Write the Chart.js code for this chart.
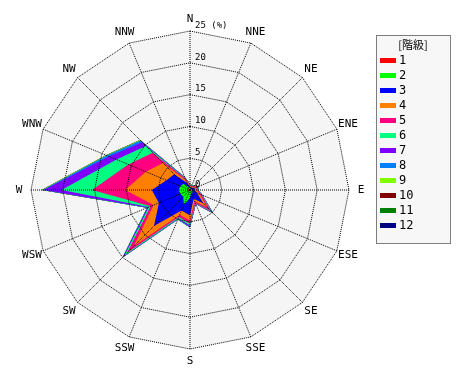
<!DOCTYPE html>
<html>
<head>
<meta charset="utf-8">
<script src="https://cdn.jsdelivr.net/npm/chart.js@4/dist/chart.umd.min.js"></script>
<style>
  html, body { margin: 0; padding: 0; background: #fff; }
  #wrap { width: 470px; height: 380px; }
</style>
</head>
<body>
<div id="wrap"><canvas id="roseChart"></canvas></div>
<script>
const directions = ['N', 'NNE', 'NE', 'ENE', 'E', 'ESE', 'SE', 'SSE', 'S', 'SSW', 'SW', 'WSW', 'W', 'WNW', 'NW', 'NNW'];
const ringValues = [0, 5, 10, 15, 20, 25];
const ringLabels = ['0', '5', '10', '15', '20', '25 (%)'];
const classNames = ['1', '2', '3', '4', '5', '6', '7', '8', '9', '10', '11', '12'];
const classColors = ['#ff0000', '#00ff00', '#0000ff', '#ff8000', '#ff0080', '#00ff80',
                     '#8000ff', '#0080ff', '#80ff00', '#800000', '#008000', '#000080'];

// frequency (%) of each class, by direction N .. NNW
const class1  = [0.1, 0.1, 0.1, 0.1, 0.1, 0.1, 0.1, 0.1, 0.2, 0.2, 0.2, 0.3, 0.3, 0.3, 0.2, 0.1];
const class2  = [0.2, 0.1, 0.1, 0.2, 0.2, 0.3, 0.5, 0.4, 1.0, 2.3, 1.3, 1.3, 1.5, 1.3, 1.2, 0.4];
const class3  = [0.2, 0.2, 0.3, 0.5, 0.4, 0.8, 2.4, 1.0, 2.8, 1.0, 6.5, 3.7, 4.2, 2.4, 2.1, 0.7];
const class4  = [0.2, 0.2, 0.2, 0.3, 0.3, 0.4, 0.9, 0.4, 0.8, 0.7, 4.5, 0.9, 4.2, 3.5, 2.5, 0.4];
const class5  = [0.2, 0.1, 0.2, 0.3, 0.2, 0.3, 0.7, 0.3, 0.5, 0.4, 1.5, 0.5, 5.2, 3.0, 2.3, 0.3];
const class6  = [0.1, 0.1, 0.1, 0.1, 0.1, 0.1, 0.3, 0.1, 0.3, 0.2, 0.6, 0.3, 4.8, 2.0, 1.5, 0.1];
const class7  = [0.0, 0.0, 0.0, 0.0, 0.0, 0.1, 0.2, 0.1, 0.2, 0.1, 0.3, 0.2, 2.8, 1.3, 0.8, 0.1];
const class8  = [0.0, 0.0, 0.0, 0.0, 0.0, 0.0, 0.1, 0.0, 0.1, 0.1, 0.1, 0.1, 0.2, 0.4, 0.4, 0.1];
const class9  = [0.0, 0.0, 0.0, 0.0, 0.0, 0.0, 0.0, 0.0, 0.0, 0.0, 0.0, 0.0, 0.1, 0.1, 0.1, 0.0];
const class10 = [0, 0, 0, 0, 0, 0, 0, 0, 0, 0, 0, 0, 0, 0, 0, 0];
const class11 = [0, 0, 0, 0, 0, 0, 0, 0, 0, 0, 0, 0, 0, 0, 0, 0];
const class12 = [0, 0, 0, 0, 0, 0, 0, 0, 0, 0, 0, 0, 0, 0, 0, 0];

const classData = [class1, class2, class3, class4, class5, class6,
                   class7, class8, class9, class10, class11, class12];

// stack the classes: each dataset is the running total up to that class
let running = directions.map(() => 0);
const datasets = classData.map((vals, i) => {
  running = running.map((v, j) => +(v + vals[j]).toFixed(2));
  return {
    label: classNames[i],
    data: running.slice(),
    backgroundColor: classColors[i],
    borderColor: classColors[i],
    borderWidth: 0,
    pointRadius: 0,
    fill: 'origin'
  };
});

// light grey plate behind the rose
const plate = {
  id: 'plate',
  beforeDatasetsDraw(chart) {
    const r = chart.scales.r;
    const ctx = chart.ctx;
    ctx.save();
    ctx.beginPath();
    directions.forEach((d, i) => {
      const p = r.getPointPositionForValue(i, r.max);
      if (i === 0) ctx.moveTo(p.x, p.y); else ctx.lineTo(p.x, p.y);
    });
    ctx.closePath();
    ctx.fillStyle = '#f5f5f5';
    ctx.fill();
    ctx.restore();
  }
};

// direction names centred just outside the rim, ring labels beside the north spoke
const roseText = {
  id: 'roseText',
  afterDraw(chart) {
    const r = chart.scales.r;
    const ctx = chart.ctx;
    ctx.save();
    ctx.fillStyle = '#000';
    ctx.font = '11px "DejaVu Sans Mono"';
    ctx.textAlign = 'center';
    ctx.textBaseline = 'middle';
    directions.forEach((d, i) => {
      const p = r.getPointPosition(i, r.drawingArea + 12);
      ctx.fillText(d, p.x, p.y);
    });
    ctx.font = '9px "DejaVu Sans Mono"';
    ctx.textAlign = 'left';
    ctx.textBaseline = 'bottom';
    ringValues.forEach((v, i) => {
      const p = r.getPointPositionForValue(0, v);
      ctx.fillText(ringLabels[i], p.x + 5, p.y - 1);
    });
    ctx.restore();
  }
};

// boxed legend on the right
const classLegend = {
  id: 'classLegend',
  afterDraw(chart) {
    const ctx = chart.ctx;
    const x = 376, y = 35, w = 74, h = 208;
    ctx.save();
    ctx.fillStyle = '#f7f7f7';
    ctx.fillRect(x, y, w, h);
    ctx.strokeStyle = '#000';
    ctx.lineWidth = 1;
    ctx.setLineDash([1, 1]);
    ctx.strokeRect(x + 0.5, y + 0.5, w, h);
    ctx.setLineDash([]);
    ctx.fillStyle = '#000';
    ctx.font = '11px "Noto Sans CJK JP"';
    ctx.textAlign = 'center';
    ctx.textBaseline = 'middle';
    ctx.fillText('[階級]', x + w / 2, y + 10);
    ctx.font = '12px "DejaVu Sans Mono"';
    ctx.textAlign = 'left';
    classNames.forEach((name, i) => {
      const cy = 60 + i * 15;
      ctx.fillStyle = classColors[i];
      ctx.fillRect(380, cy - 2, 16, 5);
      ctx.fillStyle = '#000';
      ctx.fillText(name, 399, cy + 1);
    });
    ctx.restore();
  }
};

new Chart(document.getElementById('roseChart'), {
  type: 'radar',
  data: { labels: directions, datasets: datasets },
  plugins: [plate, roseText, classLegend],
  options: {
    responsive: true,
    maintainAspectRatio: false,
    animation: false,
    layout: { padding: { left: 31, right: 121, top: 31, bottom: 31 } },
    elements: { line: { tension: 0, borderWidth: 0 } },
    plugins: { legend: { display: false }, tooltip: { enabled: false } },
    scales: {
      r: {
        min: 0,
        max: 25,
        ticks: { stepSize: 5, display: false },
        grid: { color: '#000', lineWidth: 1, z: 1 },
        border: { dash: [1, 1] },
        angleLines: { color: '#000', borderDash: [1, 1], lineWidth: 1 },
        pointLabels: { display: false }
      }
    }
  }
});
</script>
</body>
</html>
